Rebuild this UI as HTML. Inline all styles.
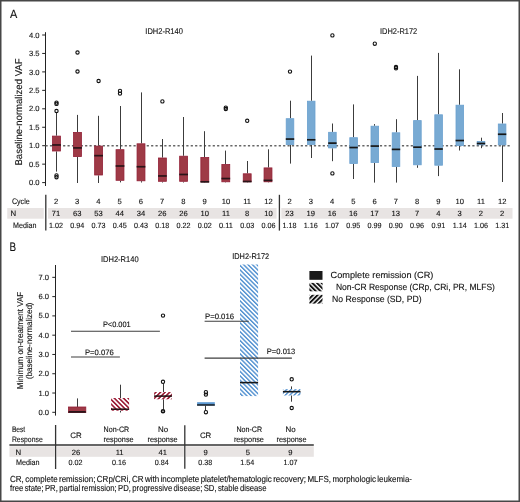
<!DOCTYPE html><html><head><meta charset="utf-8"><style>html,body{margin:0;padding:0;background:#fff;}svg{display:block;will-change:transform;}</style></head><body>
<svg width="520" height="502" viewBox="0 0 520 502" font-family='"Liberation Sans", sans-serif' fill="#111">
<style>text{stroke:#111;stroke-width:0.12;paint-order:stroke;text-rendering:geometricPrecision;}</style>
<defs>
<pattern id="hrB" patternUnits="userSpaceOnUse" width="3.25" height="3.25" patternTransform="rotate(-45)"><rect x="0" y="0" width="1.62" height="3.25" fill="#9b1d36"/></pattern>
<pattern id="hrF" patternUnits="userSpaceOnUse" width="3.25" height="3.25" patternTransform="rotate(45)"><rect x="0" y="0" width="1.62" height="3.25" fill="#9b1d36"/></pattern>
<pattern id="hbB" patternUnits="userSpaceOnUse" width="3.12" height="3.12" patternTransform="rotate(-45)"><rect x="0" y="0" width="1.4" height="3.12" fill="#4f8fd0"/></pattern>
<pattern id="hbF" patternUnits="userSpaceOnUse" width="3.12" height="3.12" patternTransform="rotate(45)"><rect x="0" y="0" width="1.4" height="3.12" fill="#4f8fd0"/></pattern>
<pattern id="hkB" patternUnits="userSpaceOnUse" width="3.3" height="3.3" patternTransform="rotate(-45)"><rect x="0" y="0" width="1.95" height="3.3" fill="#111"/></pattern>
<pattern id="hkF" patternUnits="userSpaceOnUse" width="3.3" height="3.3" patternTransform="rotate(45)"><rect x="0" y="0" width="1.95" height="3.3" fill="#111"/></pattern>
</defs>
<rect x="0.00" y="0.00" width="520.00" height="502.00" fill="#fff"/>
<text x="10.00" y="17.70" font-size="11.8" textLength="7.30" lengthAdjust="spacingAndGlyphs">A</text>
<text x="145.30" y="34.10" font-size="8.4" textLength="37.60" lengthAdjust="spacingAndGlyphs">IDH2-R140</text>
<text x="380.00" y="33.60" font-size="8.4" textLength="37.20" lengthAdjust="spacingAndGlyphs">IDH2-R172</text>
<line x1="45.50" y1="32.20" x2="45.50" y2="186.00" stroke="#222" stroke-width="1.0"/>
<line x1="42.20" y1="182.60" x2="45.50" y2="182.60" stroke="#222" stroke-width="1.0"/>
<text x="39.60" y="185.20" font-size="7.6" text-anchor="end">0.0</text>
<line x1="42.20" y1="164.15" x2="45.50" y2="164.15" stroke="#222" stroke-width="1.0"/>
<text x="39.60" y="166.75" font-size="7.6" text-anchor="end">0.5</text>
<line x1="42.20" y1="145.70" x2="45.50" y2="145.70" stroke="#222" stroke-width="1.0"/>
<text x="39.60" y="148.30" font-size="7.6" text-anchor="end">1.0</text>
<line x1="42.20" y1="127.25" x2="45.50" y2="127.25" stroke="#222" stroke-width="1.0"/>
<text x="39.60" y="129.85" font-size="7.6" text-anchor="end">1.5</text>
<line x1="42.20" y1="108.80" x2="45.50" y2="108.80" stroke="#222" stroke-width="1.0"/>
<text x="39.60" y="111.40" font-size="7.6" text-anchor="end">2.0</text>
<line x1="42.20" y1="90.35" x2="45.50" y2="90.35" stroke="#222" stroke-width="1.0"/>
<text x="39.60" y="92.95" font-size="7.6" text-anchor="end">2.5</text>
<line x1="42.20" y1="71.90" x2="45.50" y2="71.90" stroke="#222" stroke-width="1.0"/>
<text x="39.60" y="74.50" font-size="7.6" text-anchor="end">3.0</text>
<line x1="42.20" y1="53.45" x2="45.50" y2="53.45" stroke="#222" stroke-width="1.0"/>
<text x="39.60" y="56.05" font-size="7.6" text-anchor="end">3.5</text>
<line x1="42.20" y1="35.00" x2="45.50" y2="35.00" stroke="#222" stroke-width="1.0"/>
<text x="39.60" y="37.60" font-size="7.6" text-anchor="end">4.0</text>
<text x="21.50" y="112.00" font-size="9.9" text-anchor="middle" textLength="107.00" lengthAdjust="spacingAndGlyphs" transform="rotate(-90 21.50 112.00)">Baseline-normalized VAF</text>
<line x1="45.50" y1="145.70" x2="509.70" y2="145.70" stroke="#666" stroke-width="1.4" stroke-dasharray="2.2 2.2"/>
<line x1="56.50" y1="112.90" x2="56.50" y2="135.70" stroke="#3c3c3c" stroke-width="1.0"/>
<line x1="56.50" y1="151.40" x2="56.50" y2="171.60" stroke="#3c3c3c" stroke-width="1.0"/>
<rect x="52.55" y="136.10" width="7.90" height="14.90" fill="#9e3a46" stroke="#921f36" stroke-width="0.8"/>
<line x1="52.15" y1="144.96" x2="60.85" y2="144.96" stroke="#2a1418" stroke-width="1.7"/>
<circle cx="56.50" cy="111.00" r="1.65" fill="none" stroke="#111" stroke-width="1.1"/>
<circle cx="56.50" cy="102.60" r="1.65" fill="none" stroke="#111" stroke-width="1.1"/>
<circle cx="56.50" cy="103.90" r="1.65" fill="none" stroke="#111" stroke-width="1.1"/>
<circle cx="56.50" cy="175.40" r="1.65" fill="none" stroke="#111" stroke-width="1.1"/>
<circle cx="56.50" cy="177.20" r="1.65" fill="none" stroke="#111" stroke-width="1.1"/>
<line x1="77.50" y1="114.90" x2="77.50" y2="132.00" stroke="#3c3c3c" stroke-width="1.0"/>
<line x1="77.50" y1="157.00" x2="77.50" y2="183.00" stroke="#3c3c3c" stroke-width="1.0"/>
<rect x="73.55" y="132.40" width="7.90" height="24.20" fill="#9e3a46" stroke="#921f36" stroke-width="0.8"/>
<line x1="73.15" y1="147.91" x2="81.85" y2="147.91" stroke="#2a1418" stroke-width="1.7"/>
<circle cx="77.50" cy="52.50" r="1.65" fill="none" stroke="#111" stroke-width="1.1"/>
<circle cx="77.50" cy="71.50" r="1.65" fill="none" stroke="#111" stroke-width="1.1"/>
<line x1="98.50" y1="115.80" x2="98.50" y2="145.70" stroke="#3c3c3c" stroke-width="1.0"/>
<line x1="98.50" y1="175.40" x2="98.50" y2="183.00" stroke="#3c3c3c" stroke-width="1.0"/>
<rect x="94.65" y="146.10" width="7.90" height="28.90" fill="#9e3a46" stroke="#921f36" stroke-width="0.8"/>
<line x1="94.25" y1="155.66" x2="102.95" y2="155.66" stroke="#2a1418" stroke-width="1.7"/>
<circle cx="98.60" cy="81.00" r="1.65" fill="none" stroke="#111" stroke-width="1.1"/>
<line x1="120.50" y1="106.00" x2="120.50" y2="149.30" stroke="#3c3c3c" stroke-width="1.0"/>
<line x1="120.50" y1="180.70" x2="120.50" y2="182.40" stroke="#3c3c3c" stroke-width="1.0"/>
<rect x="116.05" y="149.70" width="7.90" height="30.60" fill="#9e3a46" stroke="#921f36" stroke-width="0.8"/>
<line x1="115.65" y1="166.00" x2="124.35" y2="166.00" stroke="#2a1418" stroke-width="1.7"/>
<circle cx="120.00" cy="90.90" r="1.65" fill="none" stroke="#111" stroke-width="1.1"/>
<circle cx="120.00" cy="93.60" r="1.65" fill="none" stroke="#111" stroke-width="1.1"/>
<line x1="141.50" y1="92.40" x2="141.50" y2="143.40" stroke="#3c3c3c" stroke-width="1.0"/>
<line x1="141.50" y1="181.20" x2="141.50" y2="182.50" stroke="#3c3c3c" stroke-width="1.0"/>
<rect x="137.05" y="143.80" width="7.90" height="37.00" fill="#9e3a46" stroke="#921f36" stroke-width="0.8"/>
<line x1="136.65" y1="166.73" x2="145.35" y2="166.73" stroke="#2a1418" stroke-width="1.7"/>
<line x1="162.50" y1="139.00" x2="162.50" y2="157.60" stroke="#3c3c3c" stroke-width="1.0"/>
<line x1="162.50" y1="181.70" x2="162.50" y2="182.50" stroke="#3c3c3c" stroke-width="1.0"/>
<rect x="158.45" y="158.00" width="7.90" height="23.30" fill="#9e3a46" stroke="#921f36" stroke-width="0.8"/>
<line x1="158.05" y1="175.96" x2="166.75" y2="175.96" stroke="#2a1418" stroke-width="1.7"/>
<circle cx="162.40" cy="101.40" r="1.65" fill="none" stroke="#111" stroke-width="1.1"/>
<line x1="183.50" y1="117.00" x2="183.50" y2="155.80" stroke="#3c3c3c" stroke-width="1.0"/>
<line x1="183.50" y1="181.70" x2="183.50" y2="182.50" stroke="#3c3c3c" stroke-width="1.0"/>
<rect x="179.65" y="156.20" width="7.90" height="25.10" fill="#9e3a46" stroke="#921f36" stroke-width="0.8"/>
<line x1="179.25" y1="174.48" x2="187.95" y2="174.48" stroke="#2a1418" stroke-width="1.7"/>
<line x1="204.50" y1="131.20" x2="204.50" y2="157.10" stroke="#3c3c3c" stroke-width="1.0"/>
<line x1="204.50" y1="182.20" x2="204.50" y2="182.50" stroke="#3c3c3c" stroke-width="1.0"/>
<rect x="200.85" y="157.50" width="7.90" height="24.30" fill="#9e3a46" stroke="#921f36" stroke-width="0.8"/>
<line x1="200.45" y1="181.86" x2="209.15" y2="181.86" stroke="#2a1418" stroke-width="1.7"/>
<line x1="225.50" y1="150.60" x2="225.50" y2="164.10" stroke="#3c3c3c" stroke-width="1.0"/>
<line x1="225.50" y1="182.20" x2="225.50" y2="182.50" stroke="#3c3c3c" stroke-width="1.0"/>
<rect x="221.85" y="164.50" width="7.90" height="17.30" fill="#9e3a46" stroke="#921f36" stroke-width="0.8"/>
<line x1="221.45" y1="178.54" x2="230.15" y2="178.54" stroke="#2a1418" stroke-width="1.7"/>
<circle cx="225.80" cy="107.60" r="1.65" fill="none" stroke="#111" stroke-width="1.1"/>
<circle cx="225.80" cy="109.00" r="1.65" fill="none" stroke="#111" stroke-width="1.1"/>
<line x1="247.50" y1="161.00" x2="247.50" y2="173.40" stroke="#3c3c3c" stroke-width="1.0"/>
<line x1="247.50" y1="182.20" x2="247.50" y2="182.50" stroke="#3c3c3c" stroke-width="1.0"/>
<rect x="243.25" y="173.80" width="7.90" height="8.00" fill="#9e3a46" stroke="#921f36" stroke-width="0.8"/>
<line x1="242.85" y1="181.49" x2="251.55" y2="181.49" stroke="#2a1418" stroke-width="1.7"/>
<circle cx="247.20" cy="120.80" r="1.65" fill="none" stroke="#111" stroke-width="1.1"/>
<line x1="268.50" y1="149.30" x2="268.50" y2="167.50" stroke="#3c3c3c" stroke-width="1.0"/>
<line x1="268.50" y1="182.20" x2="268.50" y2="182.50" stroke="#3c3c3c" stroke-width="1.0"/>
<rect x="264.05" y="167.90" width="7.90" height="13.90" fill="#9e3a46" stroke="#921f36" stroke-width="0.8"/>
<line x1="263.65" y1="180.39" x2="272.35" y2="180.39" stroke="#2a1418" stroke-width="1.7"/>
<line x1="290.50" y1="100.70" x2="290.50" y2="118.30" stroke="#3c3c3c" stroke-width="1.0"/>
<line x1="290.50" y1="145.00" x2="290.50" y2="163.60" stroke="#3c3c3c" stroke-width="1.0"/>
<rect x="286.20" y="118.70" width="7.60" height="25.90" fill="#78aad3" stroke="#6aa0cf" stroke-width="0.8"/>
<line x1="285.80" y1="139.06" x2="294.20" y2="139.06" stroke="#161616" stroke-width="1.7"/>
<circle cx="290.00" cy="71.60" r="1.65" fill="none" stroke="#111" stroke-width="1.1"/>
<line x1="311.50" y1="55.60" x2="311.50" y2="100.80" stroke="#3c3c3c" stroke-width="1.0"/>
<line x1="311.50" y1="144.80" x2="311.50" y2="158.00" stroke="#3c3c3c" stroke-width="1.0"/>
<rect x="307.40" y="101.20" width="7.60" height="43.20" fill="#78aad3" stroke="#6aa0cf" stroke-width="0.8"/>
<line x1="307.00" y1="139.80" x2="315.40" y2="139.80" stroke="#161616" stroke-width="1.7"/>
<line x1="332.50" y1="123.50" x2="332.50" y2="131.90" stroke="#3c3c3c" stroke-width="1.0"/>
<line x1="332.50" y1="148.30" x2="332.50" y2="161.20" stroke="#3c3c3c" stroke-width="1.0"/>
<rect x="328.60" y="132.30" width="7.60" height="15.60" fill="#78aad3" stroke="#6aa0cf" stroke-width="0.8"/>
<line x1="328.20" y1="143.12" x2="336.60" y2="143.12" stroke="#161616" stroke-width="1.7"/>
<circle cx="332.40" cy="35.40" r="1.65" fill="none" stroke="#111" stroke-width="1.1"/>
<circle cx="332.40" cy="173.40" r="1.65" fill="none" stroke="#111" stroke-width="1.1"/>
<line x1="353.50" y1="104.40" x2="353.50" y2="137.30" stroke="#3c3c3c" stroke-width="1.0"/>
<line x1="353.50" y1="163.90" x2="353.50" y2="179.00" stroke="#3c3c3c" stroke-width="1.0"/>
<rect x="349.80" y="137.70" width="7.60" height="25.80" fill="#78aad3" stroke="#6aa0cf" stroke-width="0.8"/>
<line x1="349.40" y1="147.54" x2="357.80" y2="147.54" stroke="#161616" stroke-width="1.7"/>
<line x1="374.50" y1="124.10" x2="374.50" y2="125.80" stroke="#3c3c3c" stroke-width="1.0"/>
<line x1="374.50" y1="162.90" x2="374.50" y2="182.60" stroke="#3c3c3c" stroke-width="1.0"/>
<rect x="371.00" y="126.20" width="7.60" height="36.30" fill="#78aad3" stroke="#6aa0cf" stroke-width="0.8"/>
<line x1="370.60" y1="146.07" x2="379.00" y2="146.07" stroke="#161616" stroke-width="1.7"/>
<circle cx="374.80" cy="43.70" r="1.65" fill="none" stroke="#111" stroke-width="1.1"/>
<line x1="396.50" y1="119.20" x2="396.50" y2="132.40" stroke="#3c3c3c" stroke-width="1.0"/>
<line x1="396.50" y1="166.80" x2="396.50" y2="182.60" stroke="#3c3c3c" stroke-width="1.0"/>
<rect x="392.20" y="132.80" width="7.60" height="33.60" fill="#78aad3" stroke="#6aa0cf" stroke-width="0.8"/>
<line x1="391.80" y1="149.39" x2="400.20" y2="149.39" stroke="#161616" stroke-width="1.7"/>
<circle cx="396.00" cy="67.00" r="1.65" fill="none" stroke="#111" stroke-width="1.1"/>
<circle cx="396.00" cy="68.30" r="1.65" fill="none" stroke="#111" stroke-width="1.1"/>
<line x1="417.50" y1="75.90" x2="417.50" y2="120.20" stroke="#3c3c3c" stroke-width="1.0"/>
<line x1="417.50" y1="165.20" x2="417.50" y2="167.80" stroke="#3c3c3c" stroke-width="1.0"/>
<rect x="413.60" y="120.60" width="7.60" height="44.20" fill="#78aad3" stroke="#6aa0cf" stroke-width="0.8"/>
<line x1="413.20" y1="147.18" x2="421.60" y2="147.18" stroke="#161616" stroke-width="1.7"/>
<line x1="438.50" y1="52.90" x2="438.50" y2="114.40" stroke="#3c3c3c" stroke-width="1.0"/>
<line x1="438.50" y1="165.60" x2="438.50" y2="176.10" stroke="#3c3c3c" stroke-width="1.0"/>
<rect x="434.80" y="114.80" width="7.60" height="50.40" fill="#78aad3" stroke="#6aa0cf" stroke-width="0.8"/>
<line x1="434.40" y1="149.02" x2="442.80" y2="149.02" stroke="#161616" stroke-width="1.7"/>
<line x1="459.50" y1="69.30" x2="459.50" y2="104.80" stroke="#3c3c3c" stroke-width="1.0"/>
<line x1="459.50" y1="145.90" x2="459.50" y2="150.50" stroke="#3c3c3c" stroke-width="1.0"/>
<rect x="456.00" y="105.20" width="7.60" height="40.30" fill="#78aad3" stroke="#6aa0cf" stroke-width="0.8"/>
<line x1="455.60" y1="140.53" x2="464.00" y2="140.53" stroke="#161616" stroke-width="1.7"/>
<line x1="481.50" y1="137.70" x2="481.50" y2="141.00" stroke="#3c3c3c" stroke-width="1.0"/>
<line x1="481.50" y1="145.20" x2="481.50" y2="148.20" stroke="#3c3c3c" stroke-width="1.0"/>
<rect x="477.20" y="141.40" width="7.60" height="3.40" fill="#78aad3" stroke="#6aa0cf" stroke-width="0.8"/>
<line x1="476.80" y1="143.49" x2="485.20" y2="143.49" stroke="#161616" stroke-width="1.7"/>
<line x1="502.50" y1="113.00" x2="502.50" y2="123.60" stroke="#3c3c3c" stroke-width="1.0"/>
<line x1="502.50" y1="145.20" x2="502.50" y2="182.00" stroke="#3c3c3c" stroke-width="1.0"/>
<rect x="498.30" y="124.00" width="7.60" height="20.80" fill="#78aad3" stroke="#6aa0cf" stroke-width="0.8"/>
<line x1="497.90" y1="134.26" x2="506.30" y2="134.26" stroke="#161616" stroke-width="1.7"/>
<rect x="7.25" y="208.00" width="36.50" height="10.70" fill="#e8e4e3"/>
<rect x="48.00" y="208.00" width="228.60" height="10.70" fill="#e8e4e3"/>
<rect x="281.30" y="208.00" width="231.20" height="10.70" fill="#e8e4e3"/>
<line x1="45.80" y1="194.80" x2="45.80" y2="230.60" stroke="#333" stroke-width="1.3"/>
<line x1="279.40" y1="194.80" x2="279.40" y2="230.60" stroke="#333" stroke-width="1.3"/>
<text x="11.90" y="203.75" font-size="8.0" textLength="17.80" lengthAdjust="spacingAndGlyphs">Cycle</text>
<text x="10.60" y="215.60" font-size="7.8">N</text>
<text x="13.10" y="228.10" font-size="8.0" textLength="23.40" lengthAdjust="spacingAndGlyphs">Median</text>
<text x="56.00" y="203.75" font-size="7.6" text-anchor="middle">2</text>
<text x="56.00" y="215.80" font-size="7.6" text-anchor="middle">71</text>
<text x="56.00" y="228.10" font-size="7.6" text-anchor="middle" textLength="14.00" lengthAdjust="spacingAndGlyphs">1.02</text>
<text x="77.24" y="203.75" font-size="7.6" text-anchor="middle">3</text>
<text x="77.24" y="215.80" font-size="7.6" text-anchor="middle">63</text>
<text x="77.24" y="228.10" font-size="7.6" text-anchor="middle" textLength="14.00" lengthAdjust="spacingAndGlyphs">0.94</text>
<text x="98.48" y="203.75" font-size="7.6" text-anchor="middle">4</text>
<text x="98.48" y="215.80" font-size="7.6" text-anchor="middle">53</text>
<text x="98.48" y="228.10" font-size="7.6" text-anchor="middle" textLength="14.00" lengthAdjust="spacingAndGlyphs">0.73</text>
<text x="119.72" y="203.75" font-size="7.6" text-anchor="middle">5</text>
<text x="119.72" y="215.80" font-size="7.6" text-anchor="middle">44</text>
<text x="119.72" y="228.10" font-size="7.6" text-anchor="middle" textLength="14.00" lengthAdjust="spacingAndGlyphs">0.45</text>
<text x="140.96" y="203.75" font-size="7.6" text-anchor="middle">6</text>
<text x="140.96" y="215.80" font-size="7.6" text-anchor="middle">34</text>
<text x="140.96" y="228.10" font-size="7.6" text-anchor="middle" textLength="14.00" lengthAdjust="spacingAndGlyphs">0.43</text>
<text x="162.20" y="203.75" font-size="7.6" text-anchor="middle">7</text>
<text x="162.20" y="215.80" font-size="7.6" text-anchor="middle">26</text>
<text x="162.20" y="228.10" font-size="7.6" text-anchor="middle" textLength="14.00" lengthAdjust="spacingAndGlyphs">0.18</text>
<text x="183.44" y="203.75" font-size="7.6" text-anchor="middle">8</text>
<text x="183.44" y="215.80" font-size="7.6" text-anchor="middle">26</text>
<text x="183.44" y="228.10" font-size="7.6" text-anchor="middle" textLength="14.00" lengthAdjust="spacingAndGlyphs">0.22</text>
<text x="204.68" y="203.75" font-size="7.6" text-anchor="middle">9</text>
<text x="204.68" y="215.80" font-size="7.6" text-anchor="middle">10</text>
<text x="204.68" y="228.10" font-size="7.6" text-anchor="middle" textLength="14.00" lengthAdjust="spacingAndGlyphs">0.02</text>
<text x="225.92" y="203.75" font-size="7.6" text-anchor="middle">10</text>
<text x="225.92" y="215.80" font-size="7.6" text-anchor="middle">11</text>
<text x="225.92" y="228.10" font-size="7.6" text-anchor="middle" textLength="14.00" lengthAdjust="spacingAndGlyphs">0.11</text>
<text x="247.16" y="203.75" font-size="7.6" text-anchor="middle">11</text>
<text x="247.16" y="215.80" font-size="7.6" text-anchor="middle">8</text>
<text x="247.16" y="228.10" font-size="7.6" text-anchor="middle" textLength="14.00" lengthAdjust="spacingAndGlyphs">0.03</text>
<text x="268.40" y="203.75" font-size="7.6" text-anchor="middle">12</text>
<text x="268.40" y="215.80" font-size="7.6" text-anchor="middle">10</text>
<text x="268.40" y="228.10" font-size="7.6" text-anchor="middle" textLength="14.00" lengthAdjust="spacingAndGlyphs">0.06</text>
<text x="289.50" y="203.75" font-size="7.6" text-anchor="middle">2</text>
<text x="289.50" y="215.80" font-size="7.6" text-anchor="middle">23</text>
<text x="289.50" y="228.10" font-size="7.6" text-anchor="middle" textLength="14.00" lengthAdjust="spacingAndGlyphs">1.18</text>
<text x="310.77" y="203.75" font-size="7.6" text-anchor="middle">3</text>
<text x="310.77" y="215.80" font-size="7.6" text-anchor="middle">19</text>
<text x="310.77" y="228.10" font-size="7.6" text-anchor="middle" textLength="14.00" lengthAdjust="spacingAndGlyphs">1.16</text>
<text x="332.04" y="203.75" font-size="7.6" text-anchor="middle">4</text>
<text x="332.04" y="215.80" font-size="7.6" text-anchor="middle">16</text>
<text x="332.04" y="228.10" font-size="7.6" text-anchor="middle" textLength="14.00" lengthAdjust="spacingAndGlyphs">1.07</text>
<text x="353.31" y="203.75" font-size="7.6" text-anchor="middle">5</text>
<text x="353.31" y="215.80" font-size="7.6" text-anchor="middle">16</text>
<text x="353.31" y="228.10" font-size="7.6" text-anchor="middle" textLength="14.00" lengthAdjust="spacingAndGlyphs">0.95</text>
<text x="374.58" y="203.75" font-size="7.6" text-anchor="middle">6</text>
<text x="374.58" y="215.80" font-size="7.6" text-anchor="middle">17</text>
<text x="374.58" y="228.10" font-size="7.6" text-anchor="middle" textLength="14.00" lengthAdjust="spacingAndGlyphs">0.99</text>
<text x="395.85" y="203.75" font-size="7.6" text-anchor="middle">7</text>
<text x="395.85" y="215.80" font-size="7.6" text-anchor="middle">13</text>
<text x="395.85" y="228.10" font-size="7.6" text-anchor="middle" textLength="14.00" lengthAdjust="spacingAndGlyphs">0.90</text>
<text x="417.12" y="203.75" font-size="7.6" text-anchor="middle">8</text>
<text x="417.12" y="215.80" font-size="7.6" text-anchor="middle">7</text>
<text x="417.12" y="228.10" font-size="7.6" text-anchor="middle" textLength="14.00" lengthAdjust="spacingAndGlyphs">0.96</text>
<text x="438.39" y="203.75" font-size="7.6" text-anchor="middle">9</text>
<text x="438.39" y="215.80" font-size="7.6" text-anchor="middle">4</text>
<text x="438.39" y="228.10" font-size="7.6" text-anchor="middle" textLength="14.00" lengthAdjust="spacingAndGlyphs">0.91</text>
<text x="459.66" y="203.75" font-size="7.6" text-anchor="middle">10</text>
<text x="459.66" y="215.80" font-size="7.6" text-anchor="middle">3</text>
<text x="459.66" y="228.10" font-size="7.6" text-anchor="middle" textLength="14.00" lengthAdjust="spacingAndGlyphs">1.14</text>
<text x="480.93" y="203.75" font-size="7.6" text-anchor="middle">11</text>
<text x="480.93" y="215.80" font-size="7.6" text-anchor="middle">2</text>
<text x="480.93" y="228.10" font-size="7.6" text-anchor="middle" textLength="14.00" lengthAdjust="spacingAndGlyphs">1.06</text>
<text x="502.20" y="203.75" font-size="7.6" text-anchor="middle">12</text>
<text x="502.20" y="215.80" font-size="7.6" text-anchor="middle">2</text>
<text x="502.20" y="228.10" font-size="7.6" text-anchor="middle" textLength="14.00" lengthAdjust="spacingAndGlyphs">1.31</text>
<text x="9.40" y="251.30" font-size="12.2" textLength="6.60" lengthAdjust="spacingAndGlyphs">B</text>
<text x="101.00" y="262.30" font-size="8.2" textLength="37.60" lengthAdjust="spacingAndGlyphs">IDH2-R140</text>
<text x="232.20" y="259.10" font-size="8.2" textLength="37.00" lengthAdjust="spacingAndGlyphs">IDH2-R172</text>
<line x1="55.50" y1="265.00" x2="55.50" y2="415.60" stroke="#222" stroke-width="1.0"/>
<line x1="52.30" y1="412.30" x2="56.00" y2="412.30" stroke="#222" stroke-width="1.0"/>
<text x="49.00" y="414.80" font-size="7.6" text-anchor="end">0.0</text>
<line x1="52.30" y1="393.02" x2="56.00" y2="393.02" stroke="#222" stroke-width="1.0"/>
<text x="49.00" y="395.52" font-size="7.6" text-anchor="end">1.0</text>
<line x1="52.30" y1="373.74" x2="56.00" y2="373.74" stroke="#222" stroke-width="1.0"/>
<text x="49.00" y="376.24" font-size="7.6" text-anchor="end">2.0</text>
<line x1="52.30" y1="354.46" x2="56.00" y2="354.46" stroke="#222" stroke-width="1.0"/>
<text x="49.00" y="356.96" font-size="7.6" text-anchor="end">3.0</text>
<line x1="52.30" y1="335.18" x2="56.00" y2="335.18" stroke="#222" stroke-width="1.0"/>
<text x="49.00" y="337.68" font-size="7.6" text-anchor="end">4.0</text>
<line x1="52.30" y1="315.90" x2="56.00" y2="315.90" stroke="#222" stroke-width="1.0"/>
<text x="49.00" y="318.40" font-size="7.6" text-anchor="end">5.0</text>
<line x1="52.30" y1="296.62" x2="56.00" y2="296.62" stroke="#222" stroke-width="1.0"/>
<text x="49.00" y="299.12" font-size="7.6" text-anchor="end">6.0</text>
<line x1="52.30" y1="277.34" x2="56.00" y2="277.34" stroke="#222" stroke-width="1.0"/>
<text x="49.00" y="279.84" font-size="7.6" text-anchor="end">7.0</text>
<text x="22.50" y="340.50" font-size="8.6" text-anchor="middle" textLength="97.50" lengthAdjust="spacingAndGlyphs" transform="rotate(-90 22.50 340.50)">Minimum on-treatment VAF</text>
<text x="31.90" y="340.75" font-size="8.4" text-anchor="middle" textLength="76.50" lengthAdjust="spacingAndGlyphs" transform="rotate(-90 31.90 340.75)">(baseline-normalized)</text>
<line x1="77.50" y1="398.40" x2="77.50" y2="407.00" stroke="#3c3c3c" stroke-width="1"/>
<rect x="68.50" y="407.00" width="17.30" height="5.60" fill="#9e3a46" stroke="#921f36" stroke-width="0.8"/>
<line x1="68.50" y1="411.91" x2="85.80" y2="411.91" stroke="#2a1418" stroke-width="1.8"/>
<line x1="120.50" y1="384.70" x2="120.50" y2="398.00" stroke="#3c3c3c" stroke-width="1"/>
<line x1="120.50" y1="410.70" x2="120.50" y2="412.50" stroke="#3c3c3c" stroke-width="1"/>
<rect x="111.10" y="398.00" width="18.00" height="12.70" fill="url(#hrB)"/>
<line x1="111.10" y1="409.22" x2="129.10" y2="409.22" stroke="#2a1418" stroke-width="1.6"/>
<line x1="163.50" y1="383.40" x2="163.50" y2="392.00" stroke="#3c3c3c" stroke-width="1"/>
<line x1="163.50" y1="399.30" x2="163.50" y2="409.70" stroke="#3c3c3c" stroke-width="1"/>
<rect x="154.10" y="392.00" width="17.80" height="7.30" fill="url(#hrF)"/>
<line x1="154.10" y1="396.10" x2="171.90" y2="396.10" stroke="#2a1418" stroke-width="1.6"/>
<circle cx="163.00" cy="381.80" r="1.65" fill="none" stroke="#111" stroke-width="1.1"/>
<circle cx="163.00" cy="411.20" r="1.5" fill="none" stroke="#111" stroke-width="1.6"/>
<circle cx="163.00" cy="315.60" r="1.65" fill="none" stroke="#111" stroke-width="1.1"/>
<line x1="205.50" y1="405.60" x2="205.50" y2="410.60" stroke="#3c3c3c" stroke-width="1"/>
<rect x="197.10" y="402.20" width="17.70" height="3.40" fill="#5b98d2"/>
<line x1="197.10" y1="404.97" x2="214.80" y2="404.97" stroke="#161616" stroke-width="1.4"/>
<circle cx="205.90" cy="412.20" r="1.65" fill="none" stroke="#111" stroke-width="1.1"/>
<circle cx="205.90" cy="392.20" r="1.65" fill="none" stroke="#111" stroke-width="1.1"/>
<circle cx="205.90" cy="394.60" r="1.65" fill="none" stroke="#111" stroke-width="1.1"/>
<rect x="240.00" y="264.50" width="18.10" height="131.60" fill="url(#hbB)"/>
<line x1="240.00" y1="382.61" x2="258.10" y2="382.61" stroke="#161616" stroke-width="1.6"/>
<line x1="291.50" y1="386.40" x2="291.50" y2="389.10" stroke="#3c3c3c" stroke-width="1"/>
<line x1="291.50" y1="395.50" x2="291.50" y2="401.70" stroke="#3c3c3c" stroke-width="1"/>
<rect x="282.90" y="389.10" width="17.60" height="6.40" fill="url(#hbF)"/>
<line x1="282.90" y1="391.67" x2="300.50" y2="391.67" stroke="#161616" stroke-width="1.6"/>
<circle cx="291.70" cy="379.30" r="1.65" fill="none" stroke="#111" stroke-width="1.1"/>
<circle cx="291.70" cy="408.00" r="1.65" fill="none" stroke="#111" stroke-width="1.1"/>
<line x1="71.00" y1="331.20" x2="159.90" y2="331.20" stroke="#3e3e3e" stroke-width="1.1"/>
<text x="102.90" y="327.40" font-size="7.8" textLength="27.80" lengthAdjust="spacingAndGlyphs">P&lt;0.001</text>
<line x1="71.00" y1="357.00" x2="119.90" y2="357.00" stroke="#3e3e3e" stroke-width="1.1"/>
<text x="85.00" y="354.90" font-size="7.8" textLength="28.80" lengthAdjust="spacingAndGlyphs">P=0.076</text>
<line x1="204.60" y1="321.30" x2="248.80" y2="321.30" stroke="#3e3e3e" stroke-width="1.1"/>
<text x="205.00" y="318.70" font-size="7.8" textLength="29.00" lengthAdjust="spacingAndGlyphs">P=0.016</text>
<line x1="204.60" y1="358.10" x2="291.90" y2="358.10" stroke="#3e3e3e" stroke-width="1.1"/>
<text x="266.80" y="354.00" font-size="7.8" textLength="28.50" lengthAdjust="spacingAndGlyphs">P=0.013</text>
<rect x="309.40" y="271.00" width="13.10" height="8.80" fill="#1a1a1a"/>
<rect x="309.40" y="282.90" width="13.10" height="8.40" fill="url(#hkB)"/>
<rect x="309.40" y="294.80" width="13.10" height="8.80" fill="url(#hkF)"/>
<text x="330.60" y="278.30" font-size="9.0" textLength="102.80" lengthAdjust="spacingAndGlyphs">Complete remission (CR)</text>
<text x="335.90" y="289.80" font-size="9.0" textLength="159.00" lengthAdjust="spacingAndGlyphs">Non-CR Response (CRp, CRi, PR, MLFS)</text>
<text x="332.10" y="301.90" font-size="9.0" textLength="89.50" lengthAdjust="spacingAndGlyphs">No Response (SD, PD)</text>
<rect x="9.40" y="446.30" width="45.20" height="10.50" fill="#e8e4e3"/>
<rect x="56.60" y="446.30" width="127.20" height="10.50" fill="#e8e4e3"/>
<rect x="185.80" y="446.30" width="128.00" height="10.50" fill="#e8e4e3"/>
<line x1="9.40" y1="445.00" x2="313.80" y2="445.00" stroke="#333" stroke-width="1.3"/>
<line x1="55.60" y1="425.00" x2="55.60" y2="469.00" stroke="#333" stroke-width="1.3"/>
<line x1="184.80" y1="425.30" x2="184.80" y2="468.70" stroke="#333" stroke-width="1.3"/>
<text x="11.90" y="432.30" font-size="8.0" textLength="13.30" lengthAdjust="spacingAndGlyphs">Best</text>
<text x="11.90" y="442.00" font-size="8.0" textLength="30.80" lengthAdjust="spacingAndGlyphs">Response</text>
<text x="15.60" y="455.00" font-size="7.8">N</text>
<text x="16.00" y="464.60" font-size="8.0" textLength="23.60" lengthAdjust="spacingAndGlyphs">Median</text>
<text x="75.90" y="437.90" font-size="7.9" text-anchor="middle">CR</text>
<text x="205.60" y="437.90" font-size="7.9" text-anchor="middle">CR</text>
<text x="116.40" y="432.30" font-size="7.9" text-anchor="middle" textLength="25.60" lengthAdjust="spacingAndGlyphs">Non-CR</text>
<text x="118.60" y="441.80" font-size="7.9" text-anchor="middle" textLength="30.00" lengthAdjust="spacingAndGlyphs">response</text>
<text x="249.30" y="432.30" font-size="7.9" text-anchor="middle" textLength="25.60" lengthAdjust="spacingAndGlyphs">Non-CR</text>
<text x="248.90" y="441.80" font-size="7.9" text-anchor="middle" textLength="30.00" lengthAdjust="spacingAndGlyphs">response</text>
<text x="163.00" y="432.30" font-size="7.9" text-anchor="middle">No</text>
<text x="162.60" y="441.80" font-size="7.9" text-anchor="middle" textLength="30.00" lengthAdjust="spacingAndGlyphs">response</text>
<text x="290.50" y="432.30" font-size="7.9" text-anchor="middle">No</text>
<text x="291.50" y="441.80" font-size="7.9" text-anchor="middle" textLength="30.00" lengthAdjust="spacingAndGlyphs">response</text>
<text x="76.00" y="454.90" font-size="7.6" text-anchor="middle">26</text>
<text x="119.60" y="454.90" font-size="7.6" text-anchor="middle">11</text>
<text x="162.70" y="454.90" font-size="7.6" text-anchor="middle">41</text>
<text x="205.60" y="454.90" font-size="7.6" text-anchor="middle">9</text>
<text x="247.85" y="454.90" font-size="7.6" text-anchor="middle">5</text>
<text x="290.40" y="454.90" font-size="7.6" text-anchor="middle">9</text>
<text x="75.60" y="464.80" font-size="7.6" text-anchor="middle" textLength="14.00" lengthAdjust="spacingAndGlyphs">0.02</text>
<text x="118.90" y="464.80" font-size="7.6" text-anchor="middle" textLength="14.00" lengthAdjust="spacingAndGlyphs">0.16</text>
<text x="161.80" y="464.80" font-size="7.6" text-anchor="middle" textLength="14.00" lengthAdjust="spacingAndGlyphs">0.84</text>
<text x="205.30" y="464.80" font-size="7.6" text-anchor="middle" textLength="14.00" lengthAdjust="spacingAndGlyphs">0.38</text>
<text x="247.30" y="464.80" font-size="7.6" text-anchor="middle" textLength="14.00" lengthAdjust="spacingAndGlyphs">1.54</text>
<text x="290.40" y="464.80" font-size="7.6" text-anchor="middle" textLength="14.00" lengthAdjust="spacingAndGlyphs">1.07</text>
<text x="10.00" y="482.00" font-size="8.8" textLength="402.00" lengthAdjust="spacingAndGlyphs" word-spacing="-0.9">CR, complete remission; CRp/CRi, CR with incomplete platelet/hematologic recovery; MLFS, morphologic leukemia-</text>
<text x="10.00" y="491.20" font-size="8.8" textLength="256.50" lengthAdjust="spacingAndGlyphs" word-spacing="-0.9">free state; PR, partial remission; PD, progressive disease; SD, stable disease</text>
<rect x="0.00" y="0.00" width="520.00" height="1.50" fill="#474747"/>
<rect x="0.00" y="500.50" width="520.00" height="1.50" fill="#474747"/>
<rect x="0.00" y="0.00" width="1.50" height="502.00" fill="#474747"/>
<rect x="518.50" y="0.00" width="1.50" height="502.00" fill="#474747"/>
</svg></body></html>
